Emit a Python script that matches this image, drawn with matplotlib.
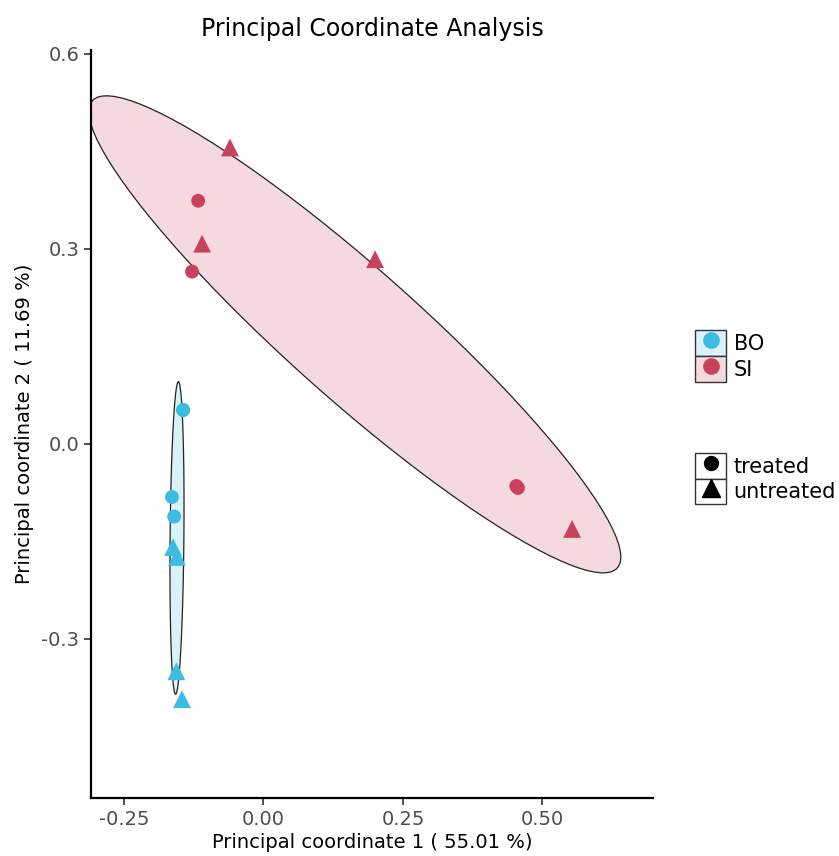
import matplotlib
matplotlib.use("Agg")
import matplotlib.pyplot as plt
import numpy as np
from matplotlib.lines import Line2D
from matplotlib.patches import Patch, Polygon
from matplotlib.legend_handler import HandlerTuple

# coordinate PCoA
groups = ["BO", "SI"]
group_colors = {"BO": "#3BBCE0", "SI": "#C8435A"}
group_fills = {"BO": "#D8F2F8", "SI": "#F4D9DE"}

treatments = ["treated", "untreated"]
treat_markers = {"treated": "o", "untreated": "^"}
treat_sizes = {"treated": 100, "untreated": 165}

bo_x = [-0.144, -0.144, -0.164, -0.160, -0.162, -0.155, -0.156, -0.146]
bo_y = [0.052, 0.052, -0.082, -0.112, -0.159, -0.174, -0.350, -0.393]
bo_treat = ["treated", "treated", "treated", "treated",
            "untreated", "untreated", "untreated", "untreated"]

si_x = [-0.060, -0.117, -0.110, -0.128, 0.200, 0.453, 0.456, 0.553]
si_y = [0.456, 0.374, 0.308, 0.265, 0.284, -0.065, -0.068, -0.131]
si_treat = ["untreated", "treated", "untreated", "treated", "untreated",
            "treated", "treated", "untreated"]

data = {
    "BO": (np.array(bo_x), np.array(bo_y), bo_treat),
    "SI": (np.array(si_x), np.array(si_y), si_treat),
}

x_ticks = [-0.25, 0.00, 0.25, 0.50]
y_ticks = [-0.3, 0.0, 0.3, 0.6]
ellipse_level = 0.7


def cov_trob(x, nu=5, maxit=25, tol=0.01):
    # come MASS::cov.trob (usato da stat_ellipse)
    n, p = x.shape
    wt = np.ones(n)
    loc = x.mean(axis=0)
    w = np.sqrt(wt)
    for _ in range(maxit):
        w0 = w
        X = x - loc
        _, d, vt = np.linalg.svd(np.sqrt(wt / wt.sum())[:, None] * X, full_matrices=False)
        wX = X @ vt.T @ np.diag(1 / d)
        Q = (wX ** 2).sum(axis=1)
        w = wt * (nu + p) / (nu + Q)
        loc = (w[:, None] * x).sum(axis=0) / w.sum()
        if np.all(np.abs(w - w0) < tol):
            break
    X = x - loc
    cov = (np.sqrt(w)[:, None] * X).T @ (np.sqrt(w)[:, None] * X) / wt.sum()
    return loc, cov


def ellipse_points(xs, ys, level, segments=100):
    pts = np.column_stack([xs, ys])
    center, shape = cov_trob(pts)
    dfd = len(xs) - 1
    qf = dfd / 2 * ((1 - level) ** (-2 / dfd) - 1)
    radius = np.sqrt(2 * qf)
    ang = np.linspace(0, 2 * np.pi, segments + 1)
    circle = np.column_stack([np.cos(ang), np.sin(ang)])
    chol = np.linalg.cholesky(shape).T
    return center + radius * circle @ chol


fig = plt.figure(figsize=(8.39, 8.56), dpi=100)
ax = fig.add_axes([0.1085, 0.0678, 0.6698, 0.8738])

for g in groups:
    xs, ys, tr = data[g]
    ell = ellipse_points(xs, ys, ellipse_level)
    ax.add_patch(Polygon(ell, closed=True, facecolor=group_fills[g],
                         edgecolor="#222222", linewidth=0.9, zorder=1))

for g in groups:
    xs, ys, tr = data[g]
    tr = np.array(tr)
    for t in treatments:
        m = tr == t
        ax.scatter(xs[m], ys[m], s=treat_sizes[t], marker=treat_markers[t],
                   color=group_colors[g], edgecolors="none", zorder=3)

ax.set_xlim(-0.309, 0.698)
ax.set_ylim(-0.545, 0.606)
ax.set_xticks(x_ticks)
ax.set_xticklabels(["%.2f" % v for v in x_ticks])
ax.set_yticks(y_ticks)
ax.set_yticklabels(["%.1f" % v for v in y_ticks])
ax.tick_params(labelsize=14, labelcolor="#4D4D4D", color="#333333",
               length=5, width=1.2)
for s in ["top", "right"]:
    ax.spines[s].set_visible(False)
for s in ["left", "bottom"]:
    ax.spines[s].set_linewidth(1.6)

ax.set_title("Principal Coordinate Analysis", fontsize=17, pad=10)
ax.set_xlabel("Principal coordinate 1 ( 55.01 %)", fontsize=14, labelpad=3)
ax.set_ylabel("Principal coordinate 2 ( 11.69 %)", fontsize=14, labelpad=5)

# legende con riquadri
fill_handles = [
    (Patch(facecolor=group_fills[g], edgecolor="#333333", linewidth=1),
     Line2D([], [], marker="o", linestyle="", color=group_colors[g], markersize=11))
    for g in groups
]
shape_handles = [
    (Patch(facecolor="white", edgecolor="#333333", linewidth=1),
     Line2D([], [], marker=treat_markers[t], linestyle="",
            color="black", markersize=10 if t == "treated" else 13))
    for t in treatments
]

leg_kw = dict(loc="upper left", frameon=False, fontsize=15, borderpad=0,
              borderaxespad=0, labelspacing=0, handlelength=1.52,
              handleheight=1.52, handletextpad=0.35,
              handler_map={tuple: HandlerTuple(ndivide=1)})
fig.legend(fill_handles, groups, bbox_to_anchor=(0.828, 0.614), **leg_kw)
fig.legend(shape_handles, treatments, bbox_to_anchor=(0.828, 0.471), **leg_kw)

fig.savefig("out.png", dpi=100)
